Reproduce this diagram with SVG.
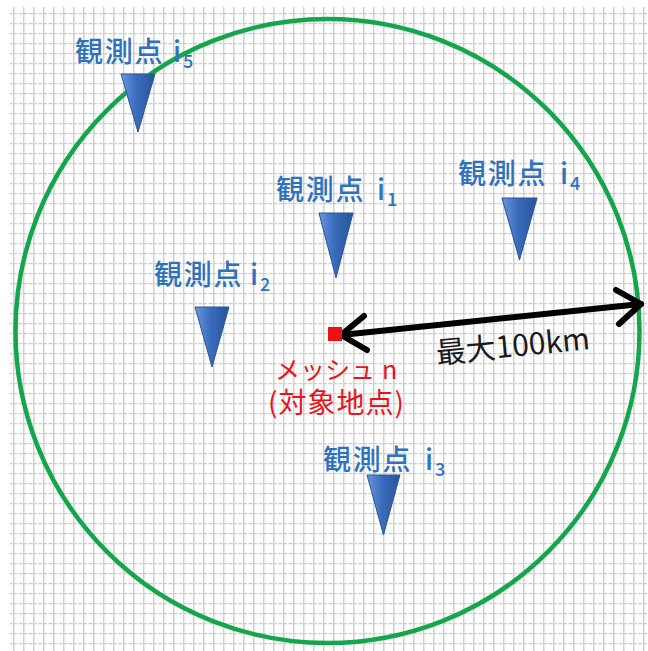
<svg xmlns="http://www.w3.org/2000/svg" width="648" height="651" viewBox="0 0 648 651">
<style>
.lbl{font-family:"Noto Sans CJK JP","Noto Sans",sans-serif;font-size:28px;font-weight:500;fill:#2e72bd;letter-spacing:1.8px}
.sub{font-size:18px;letter-spacing:0}
.red{font-family:"Noto Sans CJK JP","Noto Sans",sans-serif;fill:#e8141c}
.dist{font-family:"Noto Sans CJK JP","Noto Sans",sans-serif;font-size:30px;fill:#1a1a1a}
.tri{fill:url(#tg);stroke:#2b5592;stroke-width:1;stroke-linejoin:round}
.arr{fill:none;stroke:#000;stroke-width:6;stroke-linecap:round;stroke-linejoin:round}
</style>
<defs>
<pattern id="grid" x="3" y="3" width="10" height="10" patternUnits="userSpaceOnUse">
<rect width="10" height="10" fill="#ffffff"/>
<line x1="0.75" y1="0" x2="0.75" y2="10" stroke="#d0d0d0" stroke-width="1.5"/>
<line x1="0" y1="0.6" x2="10" y2="0.6" stroke="#cdcdcd" stroke-width="1.2" stroke-dasharray="4,1.5"/>
</pattern>
<linearGradient id="tg" x1="0" y1="0" x2="1" y2="0">
<stop offset="0" stop-color="#6a98dc"/>
<stop offset="0.45" stop-color="#3a6cbc"/>
<stop offset="1" stop-color="#28549a"/>
</linearGradient>
<path id="tri" class="tri" d="M0 0 L34 0 L17 60 Z"/>
</defs>
<rect x="0" y="0" width="648" height="651" fill="#ffffff"/>
<rect x="10" y="7" width="638" height="644" fill="url(#grid)"/>
<g id="range-circle">
<circle cx="327.5" cy="331" r="312" fill="none" stroke="#14a64b" stroke-width="4.5"/>
</g>
<g id="connectors">
<line class="arr" x1="341" y1="335" x2="641" y2="304"/>
<polyline class="arr" points="364,316 341,335 367,350"/>
<polyline class="arr" points="616,290 641,304 619,324"/>
</g>
<g id="distance-label">
<text class="dist" x="437" y="364" transform="rotate(-5.5 437 364)">最大100km</text>
</g>
<g id="mesh-n">
<rect x="328" y="327" width="14" height="14" fill="#ee1111"/>
<text class="red"><tspan x="275" y="379" font-size="25">メッシュ</tspan><tspan x="382" y="379" font-size="25">n</tspan><tspan x="268" y="413" font-size="28" letter-spacing="1">(対象地点)</tspan></text>
</g>
<g id="station-i5">
<use href="#tri" transform="translate(121 74) scale(1 0.97)"/>
<text class="lbl" x="75" y="62">観測点<tspan x="173">i</tspan><tspan class="sub" dy="6">5</tspan></text>
</g>
<g id="station-i1">
<use href="#tri" transform="translate(319 213) scale(1 1.08)"/>
<text class="lbl" x="276" y="200">観測点<tspan x="377">i</tspan><tspan class="sub" dy="6">1</tspan></text>
</g>
<g id="station-i4">
<use href="#tri" transform="translate(502 198) scale(1.03 1.03)"/>
<text class="lbl" x="458" y="184">観測点<tspan x="560">i</tspan><tspan class="sub" dy="6">4</tspan></text>
</g>
<g id="station-i2">
<use href="#tri" transform="translate(195 307)"/>
<text class="lbl" x="154" y="285">観測点<tspan x="250">i</tspan><tspan class="sub" dy="6">2</tspan></text>
</g>
<g id="station-i3">
<use href="#tri" transform="translate(367 475) scale(0.97 1)"/>
<text class="lbl" x="323" y="470">観測点<tspan x="425">i</tspan><tspan class="sub" dy="6">3</tspan></text>
</g>
</svg>
